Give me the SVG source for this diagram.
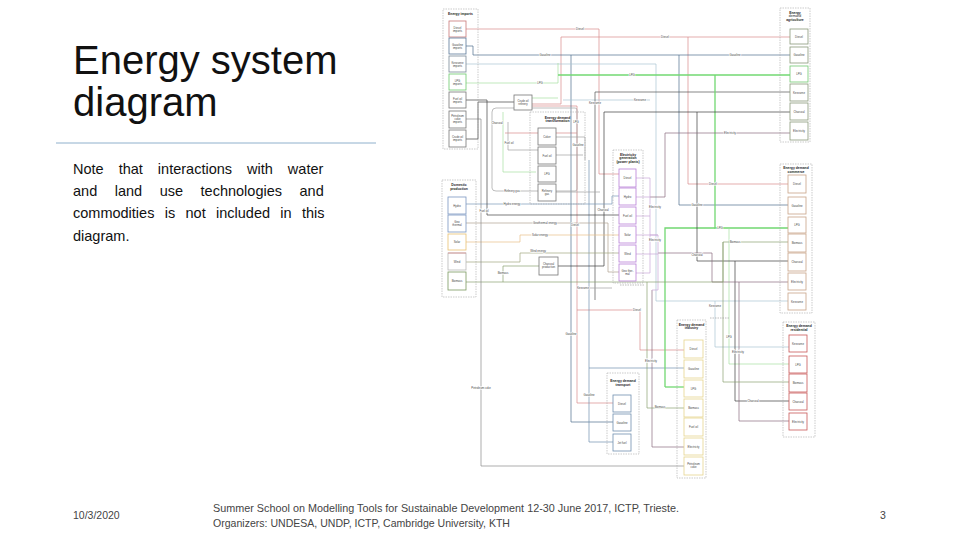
<svg xmlns="http://www.w3.org/2000/svg" width="960" height="540" viewBox="0 0 960 540">
<style>
.title{font-family:"Liberation Sans",Arial,sans-serif;font-size:40px;fill:#111}
.note{font-family:"Liberation Sans",Arial,sans-serif;font-size:14.5px;fill:#111}
.foot{font-family:"Liberation Sans",Arial,sans-serif;font-size:10.5px;fill:#444}
.grp{fill:none;stroke:#a8a8a8;stroke-width:0.6;stroke-dasharray:1.5 1}
.b{fill:#fff;stroke-width:0.8}
.t{font-family:"Liberation Sans",Arial,sans-serif;font-size:2.8px;fill:#444;text-anchor:middle}
.gt{font-family:"Liberation Sans",Arial,sans-serif;font-size:3.4px;font-weight:bold;fill:#222;text-anchor:middle}
.lb{font-family:"Liberation Sans",Arial,sans-serif;font-size:2.8px;fill:#444;text-anchor:middle;stroke:#fff;stroke-width:1.2px;paint-order:stroke}
.c{fill:none;stroke-width:0.7}
.d{stroke:#d98a8a}.g{stroke:#4f6d8c}.kl{stroke:#a9c4d2}.kd{stroke:#555}.l{stroke:#72d872;stroke-width:1.3}.l2{stroke:#a8e0a0}
.ch{stroke:#3c3c3c}.e{stroke:#8a6a80}.bio{stroke:#8aa070}.fo{stroke:#444}.gy{stroke:#a0a0a0}.pc{stroke:#8a8a8a}
.h{stroke:#7a9ab8}.s{stroke:#e8bf88}.w{stroke:#a0a880}.geo{stroke:#b0a090}.pp{stroke:#c9a8d8}.j{stroke:#7090b0}
.imp{stroke:#777}.dom{stroke:#7a96c0}.agr{stroke:#8a9a7a}.com{stroke:#c9a488}.res{stroke:#c85858}.ind{stroke:#e6d58e}.tra{stroke:#7090b0}.pow{stroke:#b880d8}.trf{stroke:#777}
</style>
<rect width="960" height="540" fill="#fff"/>

<g id="slide-text">
<text class="title" x="73" y="74">Energy system</text>
<text class="title" x="73" y="116">diagram</text>
<line x1="56" y1="143" x2="376" y2="143" stroke="#8fb0cc" stroke-width="1"/>
<text class="note" x="73" y="174" word-spacing="11">Note that interactions with water</text>
<text class="note" x="73" y="196" word-spacing="13.5">and land use technologies and</text>
<text class="note" x="73" y="218" word-spacing="6.3">commodities is not included in this</text>
<text class="note" x="73" y="241">diagram.</text>
<text class="foot" x="73" y="519">10/3/2020</text>
<text class="foot" x="213" y="512" textLength="466" lengthAdjust="spacingAndGlyphs">Summer School on Modelling Tools for Sustainable Development 12-30 June 2017, ICTP, Trieste.</text>
<text class="foot" x="213" y="527" textLength="297" lengthAdjust="spacingAndGlyphs">Organizers: UNDESA, UNDP, ICTP, Cambridge University, KTH</text>
<text class="foot" x="880" y="519">3</text>
</g>

<g id="connectors">
<path class="c d" d="M466,29 H599 V174 H619"/>
<path class="c d" d="M532,104 H561 V37 H790"/>
<path class="c d" d="M688,37 V184 H788"/>
<path class="c d" d="M505,133 H577"/>
<path class="c d" d="M532,106 H577 V403 H613"/>
<path class="c d" d="M577,310 H640 V350 H684"/>
<path class="c g" d="M466,46 H473 V55 H808"/>
<path class="c g" d="M679,55 V205 H788"/>
<path class="c g" d="M571,55 V422 H613"/>
<path class="c j" d="M589,160 V442 H613"/>
<path class="c j" d="M589,368 H684"/>
<path class="c kl" d="M466,64 H656 V301 H788"/>
<path class="c kl" d="M715,301 V347 H789"/>
<path class="c kl" d="M563,100 H650"/>
<path class="c kd" d="M595,92 H808"/>
<path class="c kd" d="M595,92 V300"/>
<path class="c l2" d="M466,83 H558 V63"/>
<path class="c l" d="M558,75 H808"/>
<path class="c l" d="M715,75 V228 H788"/>
<path class="c l" d="M665,387 V228 H715"/>
<path class="c l" d="M665,387 H684"/>
<path class="c l2" d="M729,228 V364 H789"/>
<path class="c l2" d="M503,112 V172 H536"/>
<path class="c l2" d="M532,98 H558"/>
<path class="c ch" d="M558,266 H604 V112 H808"/>
<path class="c ch" d="M697,112 V261 H788"/>
<path class="c ch" d="M735,261 V401 H789"/>
<path class="c e" d="M650,197 H665 V133 H808"/>
<path class="c e" d="M658,253 H712 V282 H788"/>
<path class="c e" d="M739,282 V421 H789"/>
<path class="c e" d="M652,290 V447 H684"/>
<path class="c pp" d="M636,178 H650 V273 H636 M636,197 H650 M636,216 H650 M636,235 H658 M636,254 H658 M650,235 H658 V290 H652"/>
<path class="c bio" d="M466,282 H723 V242 H788"/>
<path class="c bio" d="M723,242 V382 H789"/>
<path class="c bio" d="M503,282 V266 H539"/>
<path class="c bio" d="M647,282 V408 H684"/>
<path class="c h" d="M466,204 H612 V196 H619"/>
<path class="c geo" d="M466,223 H608 V272 H619"/>
<path class="c s" d="M466,242 H520 V235 H619"/>
<path class="c w" d="M466,262 H520 V253 H619"/>
<path class="c fo" d="M466,100 H487 V215 H619"/>
<path class="c pc" d="M466,119 H481 V466 H684"/>
<path class="c fo" d="M466,139 H478 V102 H514"/>
<path class="c gy" d="M496,108 H575 Q577,108 577,110 V189 Q577,191 575,191 H496 Q492,191 492,188 V112 Q492,108 496,108"/>
<path class="c gy" d="M508,122 V150 H538"/>
<path class="c gy" d="M556,137 H585 V160"/>
<path class="c gy" d="M556,155 H583"/>
<path class="c gy" d="M556,192 H600"/>
<path class="c gy" d="M580,288 H612"/>
<path class="c gy" d="M710,318 H730" stroke-dasharray="1.5 1"/>
<path class="c gy" d="M620,285 H645" stroke-dasharray="1.5 1"/>
</g>

<g id="connector-labels">
<text class="lb" x="580" y="30">Diesel</text>
<text class="lb" x="665" y="38">Diesel</text>
<text class="lb" x="713" y="185">Diesel</text>
<text class="lb" x="637" y="311">Diesel</text>
<text class="lb" x="575" y="226">Diesel</text>
<text class="lb" x="545" y="56">Gasoline</text>
<text class="lb" x="735" y="56">Gasoline</text>
<text class="lb" x="697" y="206">Gasoline</text>
<text class="lb" x="571" y="335">Gasoline</text>
<text class="lb" x="589" y="396">Gasoline</text>
<text class="lb" x="578" y="146">Gasoline</text>
<text class="lb" x="540" y="84">LPG</text>
<text class="lb" x="632" y="76">LPG</text>
<text class="lb" x="720" y="229">LPG</text>
<text class="lb" x="729" y="338">LPG</text>
<text class="lb" x="576" y="123">LPG</text>
<text class="lb" x="640" y="101">Kerosene</text>
<text class="lb" x="595" y="104">Kerosene</text>
<text class="lb" x="715" y="307">Kerosene</text>
<text class="lb" x="583" y="289">Kerosene</text>
<text class="lb" x="603" y="211">Charcoal</text>
<text class="lb" x="697" y="256">Charcoal</text>
<text class="lb" x="753" y="402">Charcoal</text>
<text class="lb" x="497" y="124">Charcoal</text>
<text class="lb" x="730" y="134">Electricity</text>
<text class="lb" x="655" y="208">Electricity</text>
<text class="lb" x="655" y="241">Electricity</text>
<text class="lb" x="651" y="362">Electricity</text>
<text class="lb" x="738" y="353">Electricity</text>
<text class="lb" x="735" y="243">Biomass</text>
<text class="lb" x="503" y="274">Biomass</text>
<text class="lb" x="660" y="408">Biomass</text>
<text class="lb" x="512" y="205">Hydro energy</text>
<text class="lb" x="545" y="224">Geothermal energy</text>
<text class="lb" x="540" y="236">Solar energy</text>
<text class="lb" x="538" y="252">Wind energy</text>
<text class="lb" x="484" y="212">Fuel oil</text>
<text class="lb" x="509" y="144">Fuel oil</text>
<text class="lb" x="481" y="389">Petroleum coke</text>
<text class="lb" x="512" y="192">Refinery gas</text>
</g>

<g id="grp-imports">
<rect class="grp" x="443" y="9" width="35" height="140"/>
<text class="gt" x="460.5" y="15">Energy imports</text>
<g id="imp-diesel"><rect class="b" stroke="#c87878" x="449" y="21" width="17" height="16"/><text class="t" x="457.5" y="28.5">Diesel<tspan x="457.5" dy="3.2">imports</tspan></text></g>
<g id="imp-gasoline"><rect class="b" stroke="#5a7898" x="449" y="38" width="17" height="16"/><text class="t" x="457.5" y="45.5">Gasoline<tspan x="457.5" dy="3.2">imports</tspan></text></g>
<g id="imp-kerosene"><rect class="b" stroke="#7a8a98" x="449" y="56" width="17" height="16"/><text class="t" x="457.5" y="63.5">Kerosene<tspan x="457.5" dy="3.2">imports</tspan></text></g>
<g id="imp-lpg"><rect class="b" stroke="#6cc86c" x="449" y="74" width="17" height="16"/><text class="t" x="457.5" y="81.5">LPG<tspan x="457.5" dy="3.2">imports</tspan></text></g>
<g id="imp-fueloil"><rect class="b imp" x="449" y="92" width="17" height="16"/><text class="t" x="457.5" y="99.5">Fuel oil<tspan x="457.5" dy="3.2">imports</tspan></text></g>
<g id="imp-petcoke"><rect class="b imp" x="449" y="111" width="17" height="17"/><text class="t" x="457.5" y="117">Petroleum<tspan x="457.5" dy="3.2">coke</tspan><tspan x="457.5" dy="3.2">imports</tspan></text></g>
<g id="imp-crude"><rect class="b imp" x="449" y="130" width="17" height="17"/><text class="t" x="457.5" y="137.5">Crude oil<tspan x="457.5" dy="3.2">imports</tspan></text></g>
</g>

<g id="grp-domestic">
<rect class="grp" x="442" y="180" width="34" height="117"/>
<text class="gt" x="459" y="186">Domestic<tspan x="459" dy="3.8">production</tspan></text>
<g id="dom-hydro"><rect class="b dom" x="448" y="197" width="18" height="17"/><text class="t" x="457" y="206.5">Hydro</text></g>
<g id="dom-geo"><rect class="b dom" x="448" y="215" width="18" height="17"/><text class="t" x="457" y="223">Geo<tspan x="457" dy="3.2">thermal</tspan></text></g>
<g id="dom-solar"><rect class="b" stroke="#e8c070" x="448" y="234" width="18" height="16"/><text class="t" x="457" y="243">Solar</text></g>
<g id="dom-wind"><rect class="b" stroke="#b8b8b8" x="448" y="253" width="18" height="17"/><line x1="448" y1="253" x2="466" y2="253" stroke="#d89090" stroke-width="0.8"/><text class="t" x="457" y="262.5">Wind</text></g>
<g id="dom-biomass"><rect class="b" stroke="#7a9a60" x="448" y="272" width="18" height="18"/><text class="t" x="457" y="282">Biomass</text></g>
</g>

<g id="refinery"><rect class="b trf" x="514" y="95" width="18" height="15"/><text class="t" x="523" y="101.5">Crude oil<tspan x="523" dy="3.2">refinery</tspan></text></g>

<g id="grp-transformation">
<rect class="grp" x="530" y="112" width="55" height="92"/>
<text class="gt" x="557.5" y="118.5">Energy demand<tspan x="557.5" dy="3.8">transformation</tspan></text>
<g id="trf-coker"><rect class="b trf" x="538" y="128" width="18" height="17"/><text class="t" x="547" y="137.5">Coker</text></g>
<g id="trf-fueloil"><rect class="b trf" x="538" y="147" width="18" height="17"/><text class="t" x="547" y="156.5">Fuel oil</text></g>
<g id="trf-lpg"><rect class="b trf" x="538" y="166" width="18" height="16"/><text class="t" x="547" y="175">LPG</text></g>
<g id="trf-refgas"><rect class="b trf" x="538" y="184" width="18" height="17"/><text class="t" x="547" y="192">Refinery<tspan x="547" dy="3.2">gas</tspan></text></g>
</g>

<g id="charcoal-production"><rect class="b trf" x="539" y="257" width="19" height="18"/><text class="t" x="548.5" y="265">Charcoal<tspan x="548.5" dy="3.2">production</tspan></text></g>

<g id="grp-power">
<rect class="grp" x="613" y="150" width="30" height="133"/>
<text class="gt" x="628" y="155.5">Electricity<tspan x="628" dy="3.6">generation</tspan><tspan x="628" dy="3.6">(power plants)</tspan></text>
<g id="pow-diesel"><rect class="b pow" x="619" y="169" width="17" height="18"/><text class="t" x="627.5" y="179">Diesel</text></g>
<g id="pow-hydro"><rect class="b pow" x="619" y="188" width="17" height="17"/><text class="t" x="627.5" y="197.5">Hydro</text></g>
<g id="pow-fueloil"><rect class="b pow" x="619" y="207" width="17" height="17"/><text class="t" x="627.5" y="216.5">Fuel oil</text></g>
<g id="pow-solar"><rect class="b pow" x="619" y="226" width="17" height="17"/><text class="t" x="627.5" y="235.5">Solar</text></g>
<g id="pow-wind"><rect class="b pow" x="619" y="245" width="17" height="17"/><text class="t" x="627.5" y="254.5">Wind</text></g>
<g id="pow-geo"><rect class="b pow" x="619" y="264" width="17" height="17"/><text class="t" x="627.5" y="271.5">Geo ther-<tspan x="627.5" dy="3.2">mal</tspan></text></g>
</g>

<g id="grp-agriculture">
<rect class="grp" x="780" y="8" width="30" height="134"/>
<text class="gt" x="795" y="13.5">Energy<tspan x="795" dy="3.6" font-weight="normal">demand</tspan><tspan x="795" dy="3.6">agriculture</tspan></text>
<g id="agr-diesel"><rect class="b agr" x="790" y="29" width="18" height="15"/><text class="t" x="799" y="37.5">Diesel</text></g>
<g id="agr-gasoline"><rect class="b agr" x="790" y="47" width="18" height="16"/><text class="t" x="799" y="56">Gasoline</text></g>
<g id="agr-lpg"><rect class="b" stroke="#72c872" x="790" y="66" width="18" height="16"/><text class="t" x="799" y="75">LPG</text></g>
<g id="agr-kerosene"><rect class="b agr" x="790" y="84" width="18" height="17"/><text class="t" x="799" y="93.5">Kerosene</text></g>
<g id="agr-charcoal"><rect class="b agr" x="790" y="103" width="18" height="17"/><text class="t" x="799" y="112.5">Charcoal</text></g>
<g id="agr-electricity"><rect class="b agr" x="790" y="122" width="18" height="18"/><text class="t" x="799" y="132">Electricity</text></g>
</g>

<g id="grp-commerce">
<rect class="grp" x="780" y="164" width="32" height="149"/>
<text class="gt" x="796" y="169">Energy demand<tspan x="796" dy="3.6">commerce</tspan></text>
<g id="com-diesel"><rect class="b com" x="788" y="175" width="18" height="18"/><text class="t" x="797" y="185">Diesel</text></g>
<g id="com-gasoline"><rect class="b com" x="788" y="197" width="18" height="17"/><text class="t" x="797" y="206.5">Gasoline</text></g>
<g id="com-lpg"><rect class="b com" x="788" y="217" width="18" height="16"/><text class="t" x="797" y="226">LPG</text></g>
<g id="com-biomass"><rect class="b com" x="788" y="234" width="18" height="18"/><text class="t" x="797" y="244">Biomass</text></g>
<g id="com-charcoal"><rect class="b com" x="788" y="253" width="18" height="18"/><text class="t" x="797" y="263">Charcoal</text></g>
<g id="com-electricity"><rect class="b com" x="788" y="273" width="18" height="17"/><text class="t" x="797" y="282.5">Electricity</text></g>
<g id="com-kerosene"><rect class="b com" x="788" y="293" width="18" height="17"/><text class="t" x="797" y="302.5">Kerosene</text></g>
</g>

<g id="grp-residential">
<rect class="grp" x="783" y="322" width="32" height="115"/>
<text class="gt" x="799" y="327">Energy demand<tspan x="799" dy="3.6">residential</tspan></text>
<g id="res-kerosene"><rect class="b res" x="789" y="335" width="18" height="17"/><text class="t" x="798" y="344.5">Kerosene</text></g>
<g id="res-lpg"><rect class="b res" x="789" y="356" width="18" height="17"/><text class="t" x="798" y="365.5">LPG</text></g>
<g id="res-biomass"><rect class="b res" x="789" y="374" width="18" height="18"/><text class="t" x="798" y="384">Biomass</text></g>
<g id="res-charcoal"><rect class="b res" x="789" y="393" width="18" height="17"/><text class="t" x="798" y="402.5">Charcoal</text></g>
<g id="res-electricity"><rect class="b res" x="789" y="413" width="18" height="17"/><text class="t" x="798" y="422.5">Electricity</text></g>
</g>

<g id="grp-industry">
<rect class="grp" x="677" y="320" width="29" height="158"/>
<text class="gt" x="691.5" y="325.5">Energy demand<tspan x="691.5" dy="3.6">industry</tspan></text>
<g id="ind-diesel"><rect class="b ind" x="684" y="340" width="19" height="18"/><text class="t" x="693.5" y="350">Diesel</text></g>
<g id="ind-gasoline"><rect class="b ind" x="684" y="360" width="19" height="18"/><text class="t" x="693.5" y="370">Gasoline</text></g>
<g id="ind-lpg"><rect class="b ind" x="684" y="380" width="19" height="17"/><text class="t" x="693.5" y="389.5">LPG</text></g>
<g id="ind-biomass"><rect class="b ind" x="684" y="399" width="19" height="18"/><text class="t" x="693.5" y="409">Biomass</text></g>
<g id="ind-fueloil"><rect class="b ind" x="684" y="418" width="19" height="18"/><text class="t" x="693.5" y="428">Fuel oil</text></g>
<g id="ind-electricity"><rect class="b ind" x="684" y="438" width="19" height="17"/><text class="t" x="693.5" y="447.5">Electricity</text></g>
<g id="ind-petcoke"><rect class="b ind" x="684" y="457" width="19" height="18"/><text class="t" x="693.5" y="465">Petroleum<tspan x="693.5" dy="3.2">coke</tspan></text></g>
</g>

<g id="grp-transport">
<rect class="grp" x="607" y="373" width="32" height="81"/>
<text class="gt" x="623" y="382">Energy demand<tspan x="623" dy="3.6">transport</tspan></text>
<g id="tra-diesel"><rect class="b tra" x="613" y="395" width="18" height="17"/><text class="t" x="622" y="404.5">Diesel</text></g>
<g id="tra-gasoline"><rect class="b tra" x="613" y="414" width="18" height="17"/><text class="t" x="622" y="423.5">Gasoline</text></g>
<g id="tra-jetfuel"><rect class="b tra" x="613" y="434" width="18" height="17"/><text class="t" x="622" y="443.5">Jet fuel</text></g>
</g>
</svg>
